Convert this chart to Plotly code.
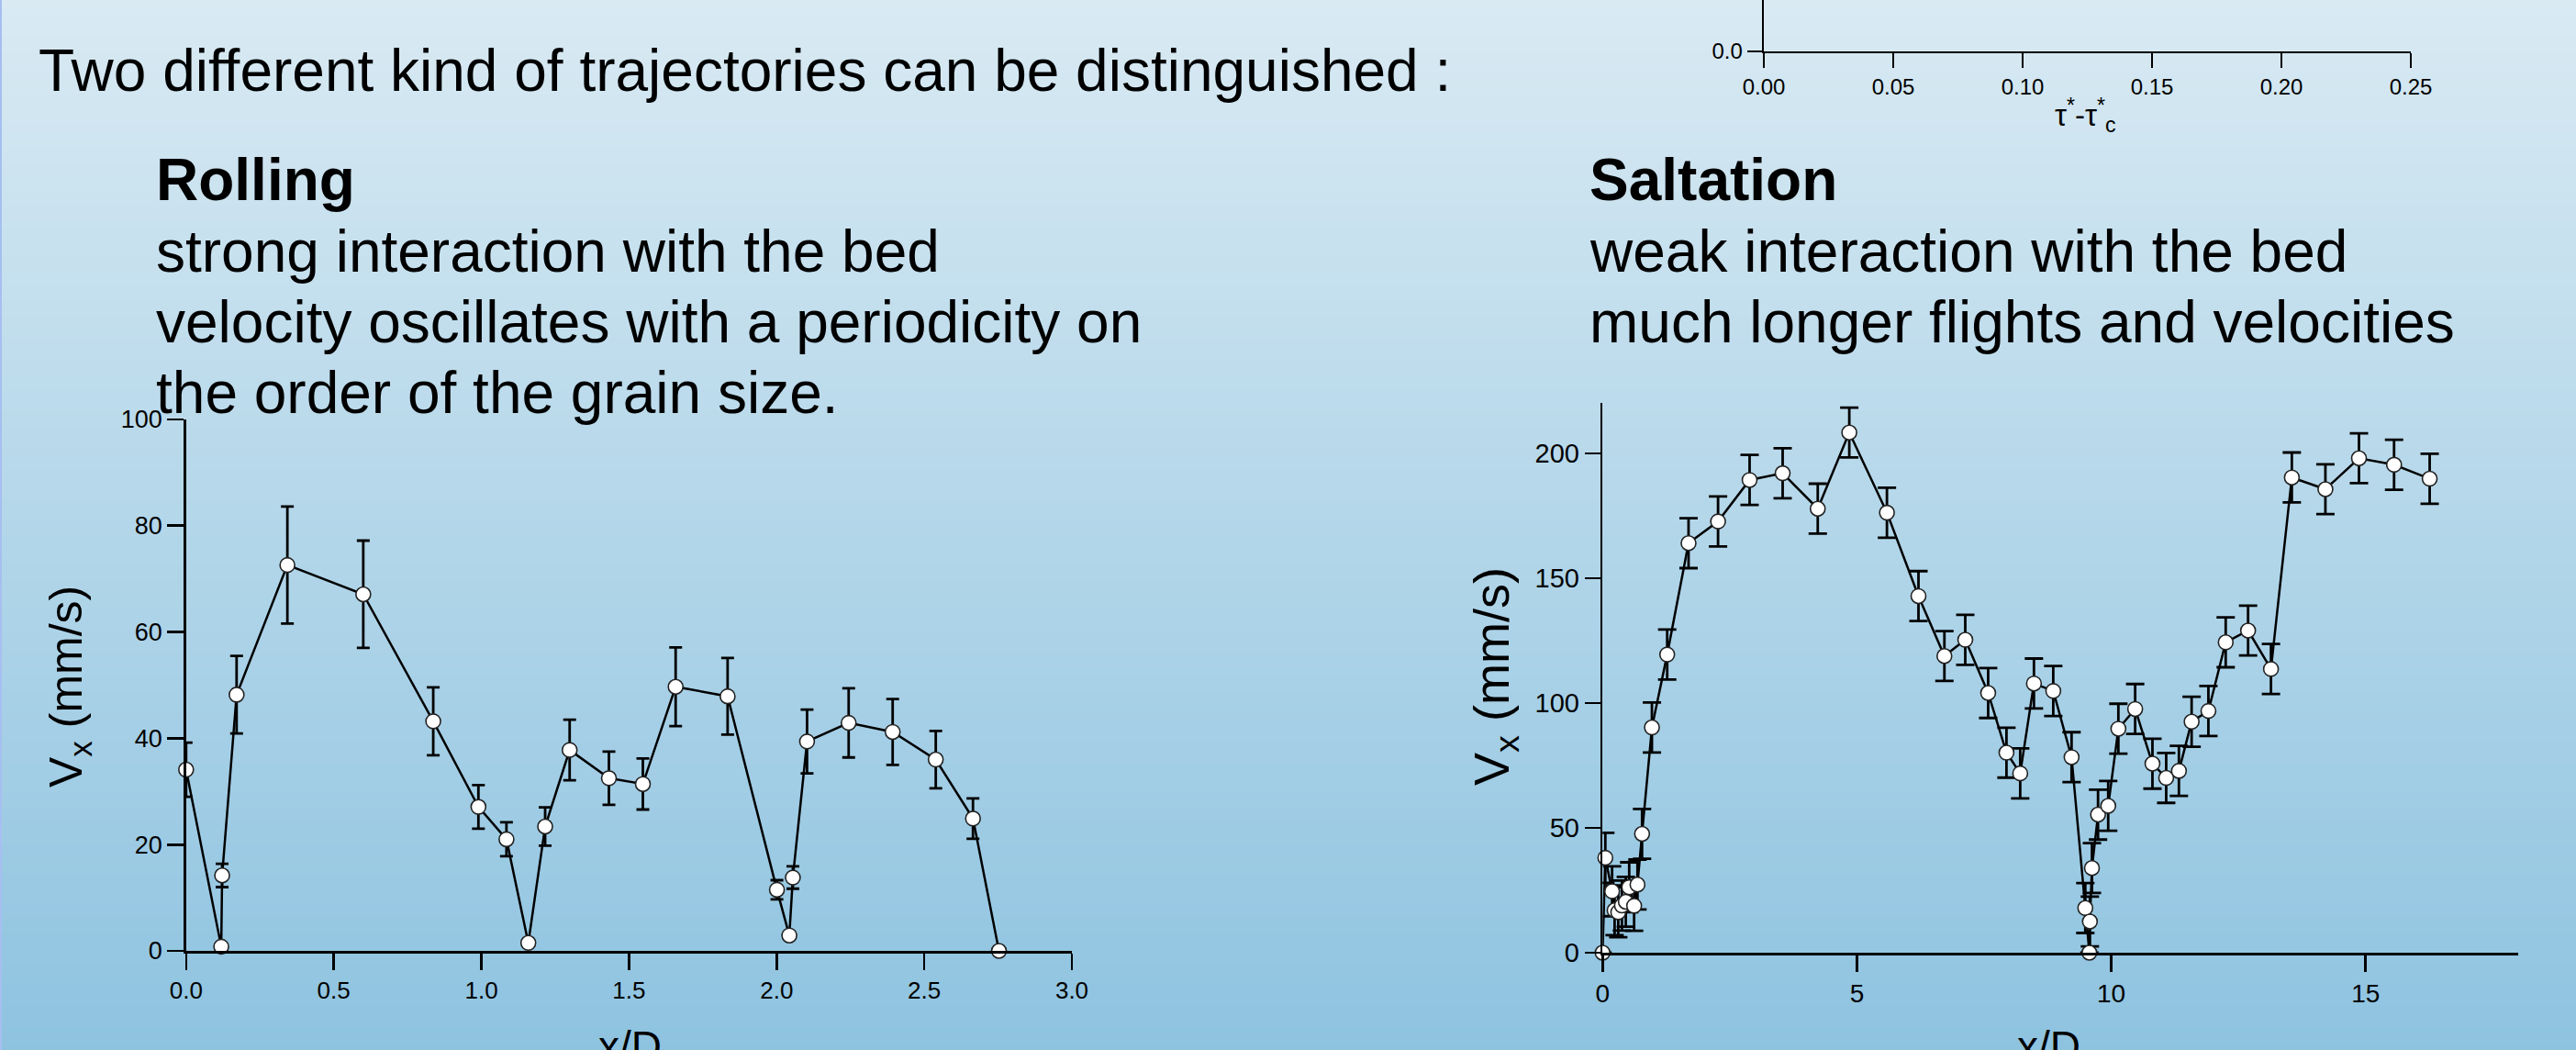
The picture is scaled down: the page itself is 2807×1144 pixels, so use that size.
import plotly.graph_objects as go

W, H = 2807, 1144

# ---------------- data ----------------
roll_x = [0.0, 0.119, 0.122, 0.171, 0.343, 0.600, 0.837, 0.990, 1.085, 1.159, 1.216, 1.299,
          1.432, 1.547, 1.658, 1.834, 2.001, 2.043, 2.055, 2.103, 2.244, 2.393, 2.539, 2.665, 2.753]
roll_v = [34.1, 0.8, 14.2, 48.2, 72.6, 67.1, 43.2, 27.1, 21.0, 1.5, 23.4, 37.8,
          32.5, 31.4, 49.7, 47.9, 11.5, 2.9, 13.8, 39.4, 42.9, 41.2, 36.0, 24.9, 0.0]
roll_err = [5.1, None, 2.2, 7.3, 11.0, 10.1, 6.4, 4.1, 3.2, None, 3.6, 5.7,
            5.0, 4.8, 7.4, 7.2, 1.8, None, 2.1, 6.0, 6.5, 6.2, 5.4, 3.8, None]

salt_x = [0.0, 0.054, 0.187, 0.236, 0.308, 0.38, 0.457, 0.523, 0.62, 0.686, 0.776, 0.97,
          1.27, 1.69, 2.27, 2.89, 3.54, 4.23, 4.85, 5.59, 6.21, 6.72, 7.13, 7.58, 7.94,
          8.21, 8.48, 8.86, 9.22, 9.49, 9.57, 9.58, 9.62, 9.74, 9.94, 10.14, 10.47, 10.81,
          11.08, 11.33, 11.58, 11.91, 12.25, 12.69, 13.14, 13.55, 14.21, 14.87, 15.56, 16.26]
salt_v = [0.0, 38.0, 24.6, 17.0, 16.2, 18.9, 20.4, 26.2, 18.8, 27.3, 47.6, 90.2,
          119.4, 164.0, 172.7, 189.3, 192.0, 177.8, 208.3, 176.2, 142.8, 118.8, 125.3, 104.0, 80.1,
          71.8, 107.8, 104.8, 78.3, 17.9, 0.0, 12.5, 33.9, 55.3, 58.8, 89.7, 97.6, 75.7,
          70.0, 72.8, 92.5, 96.8, 124.3, 129.0, 113.6, 190.3, 185.6, 198.0, 195.4, 189.8]
salt_err = [None] + [10.0] * 29 + [None] + [10.0] * 19

roll_xticks = [0, 0.5, 1.0, 1.5, 2.0, 2.5, 3.0]
roll_xlabels = ["0.0", "0.5", "1.0", "1.5", "2.0", "2.5", "3.0"]
roll_yticks = [0, 20, 40, 60, 80, 100]
salt_xticks = [0, 5, 10, 15]
salt_yticks = [0, 50, 100, 150, 200]
tau_xticks = [0, 0.05, 0.10, 0.15, 0.20, 0.25]
tau_xlabels = ["0.00", "0.05", "0.10", "0.15", "0.20", "0.25"]

title_text = "Two different kind of trajectories can be distinguished :"
roll_lines = ["strong interaction with the bed",
              "velocity oscillates with a periodicity on",
              "the order of the grain size."]
salt_lines = ["weak interaction with the bed",
              "much longer flights and velocities"]

# ---------------- figure ----------------
FONT = "Liberation Sans, Arial, sans-serif"
TICKFONT = "Liberation Sans, Arial, sans-serif"

fig = go.Figure()

fig.add_trace(go.Scatter(
    x=roll_x, y=roll_v, mode="lines+markers", xaxis="x", yaxis="y",
    line=dict(color="black", width=2.5),
    marker=dict(size=16, color="white", line=dict(color="#222", width=1.6)),
    error_y=dict(type="data", array=roll_err, visible=True, color="black",
                 thickness=2.8, width=7),
    cliponaxis=False, hoverinfo="skip"))

fig.add_trace(go.Scatter(
    x=salt_x, y=salt_v, mode="lines+markers", xaxis="x2", yaxis="y2",
    line=dict(color="black", width=2.5),
    marker=dict(size=16, color="white", line=dict(color="#222", width=1.6)),
    error_y=dict(type="data", array=salt_err, visible=True, color="black",
                 thickness=2.8, width=10),
    cliponaxis=False, hoverinfo="skip"))

fig.add_trace(go.Scatter(x=[], y=[], xaxis="x3", yaxis="y3", mode="markers",
                         hoverinfo="skip"))

def ax(**kw):
    base = dict(showline=True, linecolor="black", linewidth=2.6, ticks="outside",
                ticklen=18, tickwidth=2.6, tickcolor="black", showgrid=False,
                zeroline=False, fixedrange=True, automargin=False)
    base.update(kw)
    return base

# background gradient
top = (217, 234, 243)
bot = (142, 195, 224)
N = 143
shapes = []
for i in range(N):
    t = (i + 0.5) / N
    c = tuple(round(top[k] + (bot[k] - top[k]) * t) for k in range(3))
    shapes.append(dict(type="rect", xref="paper", yref="paper", x0=0, x1=1,
                       y0=1 - (i + 1) / N - 0.001, y1=1 - i / N, layer="below",
                       line=dict(width=0), fillcolor="rgb(%d,%d,%d)" % c))
shapes.append(dict(type="rect", xref="paper", yref="paper", x0=0, x1=2 / W, y0=0, y1=1,
                   layer="below", line=dict(width=0), fillcolor="#a6bff0"))

ann = []
def txt(s, x, y, size=64, bold=False, xanchor="left", yanchor="middle", angle=0, family=FONT):
    ann.append(dict(text=("<b>%s</b>" % s) if bold else s, x=x / W, y=1 - y / H,
                    xref="paper", yref="paper", xanchor=xanchor, yanchor=yanchor,
                    showarrow=False, textangle=angle,
                    font=dict(family=family, size=size, color="black")))

txt(title_text, 40, 77)
txt("Rolling", 168, 196, bold=True)
for i, s in enumerate(roll_lines):
    txt(s, 168, 274 + 77 * i)
txt("Saltation", 1730, 196, bold=True)
for i, s in enumerate(salt_lines):
    txt(s, 1730, 274 + 77 * i)

txt("V<sub>x</sub> (mm/s)", 75, 748, size=50, xanchor="center", angle=-90)
txt("V<sub>x</sub> (mm/s)", 1629, 737, size=54, xanchor="center", angle=-90)
txt("x/D", 686, 1112, size=46, xanchor="center", yanchor="top")
txt("x/D", 2232, 1112, size=46, xanchor="center", yanchor="top")
txt("τ<sup>*</sup>-τ<sup>*</sup><sub>c</sub>", 2272, 126, size=33, xanchor="center")

fig.update_layout(
    template="none",
    width=W, height=H, autosize=False,
    margin=dict(l=0, r=0, t=0, b=0, pad=0),
    paper_bgcolor="rgb(180,214,233)", plot_bgcolor="rgba(0,0,0,0)",
    showlegend=False,
    xaxis=ax(domain=[202.8 / W, 1168 / W], range=[0, 3], tickvals=roll_xticks,
             ticktext=roll_xlabels, anchor="y",
             tickfont=dict(family=TICKFONT, size=26, color="black")),
    yaxis=ax(domain=[(H - 1036) / H, (H - 457) / H], range=[0, 100], tickvals=roll_yticks,
             anchor="x", tickfont=dict(family=TICKFONT, size=27, color="black")),
    xaxis2=ax(domain=[1746.3 / W, 2744 / W], range=[0, 18], tickvals=salt_xticks,
              anchor="y2", tickfont=dict(family=TICKFONT, size=28, color="black")),
    yaxis2=ax(domain=[(H - 1038) / H, (H - 439.4) / H], range=[0, 220], tickvals=salt_yticks,
              anchor="x2", tickfont=dict(family=TICKFONT, size=29, color="black"),
              ticklen=17),
    xaxis3=ax(domain=[1922 / W, 2627 / W], range=[0, 0.25], tickvals=tau_xticks,
              ticktext=tau_xlabels, anchor="y3", ticklen=16, linewidth=2.4, tickwidth=2.4,
              tickfont=dict(family=TICKFONT, size=24, color="black")),
    yaxis3=ax(domain=[(H - 56) / H, 1.0], range=[0, 1], tickvals=[0], ticktext=["0.0"],
              anchor="x3", ticklen=16, linewidth=2.4, tickwidth=2.4,
              tickfont=dict(family=TICKFONT, size=24, color="black")),
    shapes=shapes, annotations=ann,
)

fig.write_html("out.html",
               config={"displayModeBar": False, "staticPlot": True},
               post_script="document.body.style.margin='0px';"
                           "document.body.style.overflow='hidden';")
